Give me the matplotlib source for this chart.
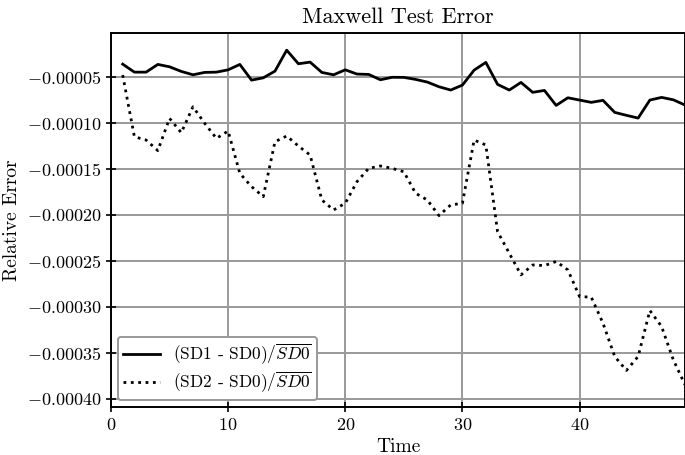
import numpy as np
import matplotlib
matplotlib.use('Agg')
import matplotlib.pyplot as plt

plt.rcParams['font.family'] = ['cmr10', 'DejaVu Serif']
plt.rcParams['mathtext.fontset'] = 'cm'
plt.rcParams['axes.formatter.use_mathtext'] = True
plt.rcParams['axes.unicode_minus'] = True

time = np.arange(1, 50)

sd1_err = [
    -0.0000359, -0.0000446, -0.0000446, -0.0000362, -0.0000388, -0.0000438, -0.0000475,
    -0.0000449, -0.0000446, -0.0000421, -0.0000362, -0.0000533, -0.0000508, -0.0000435,
    -0.0000207, -0.0000355, -0.0000337, -0.0000449, -0.0000475, -0.0000421, -0.0000467,
    -0.0000471, -0.0000529, -0.0000502, -0.0000503, -0.0000525, -0.0000554, -0.0000605,
    -0.0000641, -0.0000587, -0.0000424, -0.0000340, -0.0000579, -0.0000641, -0.0000558,
    -0.0000666, -0.0000645, -0.0000808, -0.0000725, -0.0000750, -0.0000775, -0.0000753,
    -0.0000884, -0.0000916, -0.0000946, -0.0000750, -0.0000721, -0.0000747, -0.0000804,
]

sd2_err = [
    -0.0000478, -0.0001149, -0.0001185, -0.0001300, -0.0000949, -0.0001105, -0.0000823,
    -0.0001003, -0.0001167, -0.0001087, -0.0001547, -0.0001692, -0.0001801, -0.0001203,
    -0.0001141, -0.0001250, -0.0001348, -0.0001837, -0.0001946, -0.0001873, -0.0001638,
    -0.0001493, -0.0001467, -0.0001493, -0.0001530, -0.0001764, -0.0001837, -0.0002007,
    -0.0001891, -0.0001873, -0.0001185, -0.0001239, -0.0002181, -0.0002417, -0.0002652,
    -0.0002544, -0.0002551, -0.0002507, -0.0002598, -0.0002888, -0.0002895, -0.0003178,
    -0.0003540, -0.0003692, -0.0003540, -0.0003040, -0.0003214, -0.0003576, -0.0003848,
]

yticks = np.arange(-0.0004, -0.00004, 0.00005)
xticks = [0, 10, 20, 30, 40]

fig = plt.figure(figsize=(6.85, 4.55), dpi=100)
ax = fig.add_axes([0.162, 0.1055, 0.838, 0.822])

ax.plot(time, sd1_err, color='black', lw=2.0, label=r'(SD1 - SD0)/$\overline{SD0}$')
ax.plot(time, sd2_err, color='black', lw=2.0, ls=':', label=r'(SD2 - SD0)/$\overline{SD0}$')

ax.set_xlim(0, 49)
ax.set_ylim(-0.000409, -0.000002)
ax.set_yticks(yticks)
ax.set_yticklabels([f'$-{abs(v):.5f}$' for v in yticks])
ax.set_xticks(xticks)
ax.grid(True, color='#999999', lw=1.4)
ax.set_axisbelow(True)
ax.tick_params(direction='inout', length=7, width=1.2, labelsize=13)
for s in ax.spines.values():
    s.set_linewidth(1.4)

ax.set_title('Maxwell Test Error', fontsize=16, pad=7)
ax.set_xlabel('Time', fontsize=14, labelpad=4)
ax.set_ylabel('Relative Error', fontsize=14, labelpad=4)
leg = ax.legend(loc='lower left', fontsize=12.5, framealpha=1, edgecolor='#999999', fancybox=True,
                handlelength=2.1, borderaxespad=0.4, labelspacing=0.15, borderpad=0.3)
leg.get_frame().set_linewidth(1.4)

fig.savefig('out.png', dpi=100)
